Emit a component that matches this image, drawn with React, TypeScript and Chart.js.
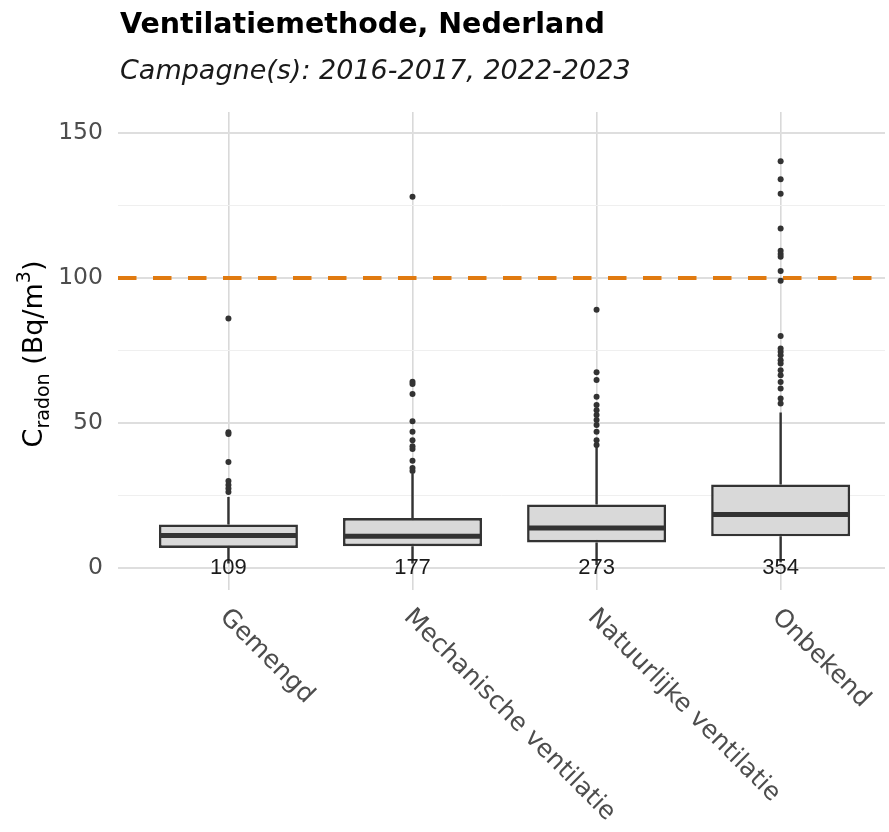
import React, { useEffect, useRef } from 'react';
import { Chart, registerables } from 'chart.js';

Chart.register(...registerables);

// ---- data ----
const categories = ['Gemengd', 'Mechanische ventilatie', 'Natuurlijke ventilatie', 'Onbekend'];
const counts = [109, 177, 273, 354];
const whiskerLow = [1.5, 1.5, 1.0, 2.0];
const q1 = [6.9, 7.5, 8.8, 10.9];
const medians = [11.2, 10.9, 13.8, 18.4];
const q3 = [15.0, 17.2, 21.9, 28.8];
const whiskerHigh = [24.5, 32.5, 41.7, 53.6];
const outliersGemengd = [86, 46.8, 46.2, 36.5, 30, 28.6, 27.4, 26.2];
const outliersMechanisch = [128, 64.2, 63.4, 60, 50.6, 47, 44, 42, 41, 37, 34.5, 33.4];
const outliersNatuurlijk = [89, 67.5, 64.8, 59, 56.2, 54.4, 52.7, 51, 49.3, 47, 44, 42.4];
const outliersOnbekend = [140.2, 134, 129, 117, 109.4, 108.2, 107.3, 102.4, 99, 80, 75.7, 74.5, 73.3, 71.6, 70.5, 68.2, 66.4, 64.1, 61.9, 58.4, 56.7];
const yTicks = [0, 25, 50, 75, 100, 125, 150];
const yLabelTicks = [0, 50, 100, 150];
const referenceLevel = 100;
const titleText = 'Ventilatiemethode, Nederland';
const subtitleText = 'Campagne(s): 2016-2017, 2022-2023';

const X_MIN = 0.4;
const X_MAX = 4.567;
const Y_MIN = -7.6;
const Y_MAX = 157.2;

const DARK = '#333333';
const AXIS_FONT = '"DejaVu Sans", Verdana, sans-serif';

const allOutliers = [outliersGemengd, outliersMechanisch, outliersNatuurlijk, outliersOnbekend];

const boxPlugin = {
  id: 'boxExtras',
  beforeDatasetsDraw(chart: any) {
    const { ctx, scales } = chart;
    const x = scales.x, y = scales.y;
    ctx.save();
    ctx.strokeStyle = DARK;
    ctx.lineWidth = 2.4;
    categories.forEach((_, i) => {
      const px = x.getPixelForValue(i + 1);
      ctx.beginPath();
      ctx.moveTo(px, y.getPixelForValue(q3[i]));
      ctx.lineTo(px, y.getPixelForValue(whiskerHigh[i]));
      ctx.moveTo(px, y.getPixelForValue(q1[i]));
      ctx.lineTo(px, y.getPixelForValue(whiskerLow[i]));
      ctx.stroke();
    });
    ctx.restore();
  },
  afterDatasetsDraw(chart: any) {
    const { ctx, scales } = chart;
    const x = scales.x, y = scales.y;
    const meta = chart.getDatasetMeta(0);
    ctx.save();
    ctx.strokeStyle = DARK;
    ctx.lineWidth = 5;
    categories.forEach((_, i) => {
      const bar = meta.data[i];
      const half = bar.width / 2 - 1;
      const px = x.getPixelForValue(i + 1);
      const py = y.getPixelForValue(medians[i]);
      ctx.beginPath();
      ctx.moveTo(px - half, py);
      ctx.lineTo(px + half, py);
      ctx.stroke();
    });
    ctx.fillStyle = '#1a1a1a';
    ctx.font = '22px "Liberation Sans", Arial, sans-serif';
    ctx.textAlign = 'center';
    ctx.textBaseline = 'middle';
    categories.forEach((_, i) => {
      ctx.fillText(String(counts[i]), x.getPixelForValue(i + 1), y.getPixelForValue(0));
    });
    ctx.restore();
  },
  afterDraw(chart: any) {
    const { ctx, scales } = chart;
    const x = scales.x;
    ctx.save();
    // title + subtitle
    ctx.textAlign = 'left';
    ctx.textBaseline = 'alphabetic';
    ctx.fillStyle = '#000000';
    ctx.font = 'bold 28.5px ' + AXIS_FONT;
    ctx.fillText(titleText, 120, 33);
    ctx.fillStyle = '#1a1a1a';
    ctx.font = 'italic 27px ' + AXIS_FONT;
    ctx.fillText(subtitleText, 120, 79);

    // rotated x labels
    ctx.fillStyle = '#4d4d4d';
    ctx.font = '25px ' + AXIS_FONT;
    categories.forEach((c, i) => {
      const px = x.getPixelForValue(i + 1);
      ctx.save();
      ctx.translate(px - 9.5, 618);
      ctx.rotate(Math.PI / 4);
      ctx.textAlign = 'left';
      ctx.textBaseline = 'alphabetic';
      ctx.fillText(c, 0, 0);
      ctx.restore();
    });

    // y axis title: C_radon (Bq/m^3)
    const big = '27px ' + AXIS_FONT;
    const small = '19px ' + AXIS_FONT;
    const parts = [
      { t: 'C', f: big, dy: 0 },
      { t: 'radon', f: small, dy: 7 },
      { t: ' (Bq/m', f: big, dy: 0 },
      { t: '3', f: small, dy: -12 },
      { t: ')', f: big, dy: 0 },
    ];
    let total = 0;
    parts.forEach((p) => { ctx.font = p.f; total += ctx.measureText(p.t).width; });
    const cy = (chart.chartArea.top + chart.chartArea.bottom) / 2 + 3;
    ctx.translate(42, cy);
    ctx.rotate(-Math.PI / 2);
    ctx.fillStyle = '#000000';
    let cx = -total / 2;
    parts.forEach((p) => {
      ctx.font = p.f;
      ctx.fillText(p.t, cx, p.dy);
      cx += ctx.measureText(p.t).width;
    });
    ctx.restore();
  },
};

export default function App() {
  const canvasRef = useRef<HTMLCanvasElement | null>(null);

  useEffect(() => {
    if (!canvasRef.current) return;
    const boxData = categories.map((_, i) => ({ x: i + 1, y: [q1[i], q3[i]] }));
    const outlierData: { x: number; y: number }[] = [];
    allOutliers.forEach((arr, i) => arr.forEach((v) => outlierData.push({ x: i + 1, y: v })));

    const chart = new Chart(canvasRef.current, {
      type: 'bar',
      data: {
        datasets: [
          {
            type: 'bar',
            data: boxData as any,
            backgroundColor: '#d9d9d9',
            borderColor: DARK,
            borderWidth: 2.6,
            borderSkipped: false,
            barPercentage: 0.755,
            categoryPercentage: 1,
            order: 2,
          } as any,
          {
            type: 'scatter',
            data: outlierData,
            pointRadius: 3,
            pointBackgroundColor: DARK,
            pointBorderWidth: 0,
            order: 0,
          } as any,
          {
            type: 'line',
            data: [
              { x: X_MIN, y: referenceLevel },
              { x: X_MAX, y: referenceLevel },
            ],
            borderColor: '#e07a10',
            borderWidth: 4,
            borderDash: [18.5, 16.5],
            pointRadius: 0,
            fill: false,
            order: 1,
          } as any,
        ],
      },
      options: {
        responsive: true,
        maintainAspectRatio: false,
        animation: false,
        layout: { padding: { top: 112, left: 0, right: 0, bottom: 0 } },
        plugins: {
          legend: { display: false },
          tooltip: { enabled: false },
          title: { display: false },
        },
        scales: {
          x: {
            type: 'linear',
            min: X_MIN,
            max: X_MAX,
            offset: false,
            afterBuildTicks: (s: any) => {
              s.ticks = categories.map((_, i) => ({ value: i + 1 }));
            },
            afterFit: (s: any) => {
              s.height = 242;
            },
            ticks: { display: false },
            grid: { color: '#d9d9d9', lineWidth: 1.6, drawTicks: false, offset: false },
            border: { display: false },
          },
          y: {
            type: 'linear',
            min: Y_MIN,
            max: Y_MAX,
            afterBuildTicks: (s: any) => {
              s.ticks = yTicks.map((v) => ({ value: v }));
            },
            afterFit: (s: any) => {
              s.width = 118;
            },
            ticks: {
              padding: 15,
              color: '#4d4d4d',
              font: { family: AXIS_FONT, size: 23.5 },
              autoSkip: false,
              callback: (v: any) => (yLabelTicks.includes(Number(v)) ? String(v) : ''),
            },
            grid: {
              color: (c: any) => (c.tick && yLabelTicks.includes(c.tick.value) ? '#dedede' : '#efefef'),
              lineWidth: (c: any) => (c.tick && yLabelTicks.includes(c.tick.value) ? 2 : 1),
              drawTicks: false,
            },
            border: { display: false },
          },
        },
      } as any,
      plugins: [boxPlugin],
    });
    return () => chart.destroy();
  }, []);

  return (
    <div style={{ position: 'absolute', left: 0, top: 0, width: 889, height: 832, background: '#ffffff' }}>
      <canvas ref={canvasRef} />
    </div>
  );
}
